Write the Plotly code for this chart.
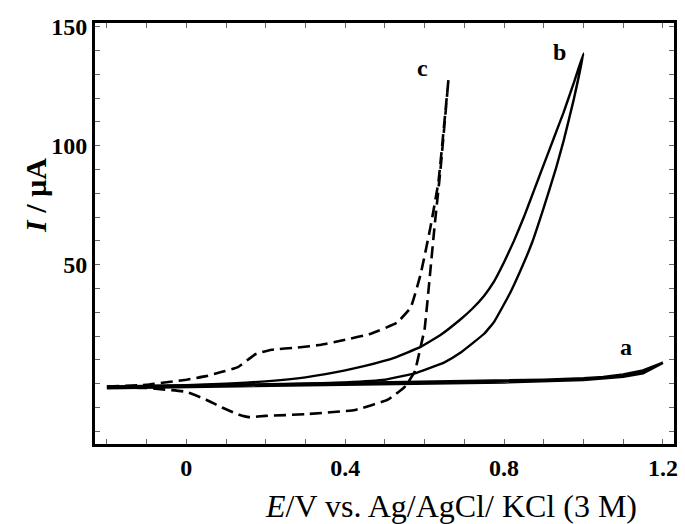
import plotly.graph_objects as go

# ---- data (E in V, I in µA) ----
a_E = [-0.2, 0.0, 0.2, 0.4, 0.6, 0.8, 0.9, 1.0, 1.05, 1.1, 1.15, 1.2,
       1.15, 1.1, 1.0, 0.8, 0.6, 0.4, 0.2, 0.0, -0.2]
a_I = [-1.3, -0.8, -0.3, 0.2, 0.7, 1.2, 1.6, 2.2, 2.8, 3.8, 5.5, 8.8,
       4.5, 3.0, 1.6, 0.6, 0.1, -0.4, -0.9, -1.4, -1.8]

b_E = [-0.2, 0.0, 0.2, 0.4, 0.5, 0.58, 0.65, 0.69, 0.75, 0.775, 0.815, 0.84, 0.87, 0.9, 0.93, 0.95, 0.975, 1.0,
       0.975, 0.95, 0.925, 0.9, 0.875, 0.85, 0.825, 0.8, 0.775, 0.75, 0.72, 0.69, 0.64, 0.59, 0.525, 0.45, 0.4, 0.3,
       0.2, 0.1, 0.0, -0.2]
b_I = [-1.5, -1.0, -0.4, 0.6, 1.7, 4.6, 9, 13, 21, 26, 38, 47, 59, 74, 90, 102, 119, 138.7,
       126, 114, 103, 92, 81, 70, 60, 51, 43, 37, 31.5, 27, 20.5, 15.5, 11, 7.5, 5.6, 2.7,
       1.0, 0.0, -0.6, -1.2]

c_E = [-0.2, -0.1, 0.0, 0.05, 0.09, 0.13, 0.175, 0.215, 0.28, 0.34, 0.4, 0.465, 0.53, 0.565, 0.59, 0.615, 0.635, 0.66,
       0.64, 0.625, 0.6125, 0.6, 0.59, 0.575, 0.55, 0.5075, 0.425, 0.3, 0.2, 0.158, 0.133, 0.09, 0.05, 0.0, -0.1, -0.2]
c_I = [-1.2, -0.4, 1.7, 3.2, 5, 7, 12.5, 14.3, 15.2, 16.4, 18.5, 21, 25.6, 32, 46, 66, 85, 127.7,
       90, 66, 44, 23, 15.5, 5, -1.3, -6.7, -11, -12.8, -13.5, -14, -13, -10, -6.7, -3.4, -1.8, -1.3]

curve_labels = ["a", "b", "c"]
label_E = [1.108, 0.94, 0.595]
label_I = [15.5, 139.5, 132.8]

x_tickvals = [-0.2, -0.1, 0.0, 0.1, 0.2, 0.3, 0.4, 0.5, 0.6, 0.7, 0.8, 0.9, 1.0, 1.1, 1.2]
x_ticktext = ["", "", "0", "", "", "", "0.4", "", "", "", "0.8", "", "", "", "1.2"]
y_tickvals = [-20, -10, 0, 10, 20, 30, 40, 50, 60, 70, 80, 90, 100, 110, 120, 130, 140, 150]
y_ticktext = ["", "", "", "", "", "", "", "50", "", "", "", "", "100", "", "", "", "", "150"]

SERIF = "Liberation Serif"

fig = go.Figure()
fig.add_trace(go.Scatter(x=a_E, y=a_I, mode="lines",
                         line=dict(color="black", width=2.8), showlegend=False))
fig.add_trace(go.Scatter(x=b_E, y=b_I, mode="lines",
                         line=dict(color="black", width=2.4, shape="spline", smoothing=0.3), showlegend=False))
fig.add_trace(go.Scatter(x=c_E, y=c_I, mode="lines",
                         line=dict(color="black", width=2.6, dash="12px,6px", shape="spline", smoothing=0.3),
                         showlegend=False))

for t, xe, yi in zip(curve_labels, label_E, label_I):
    fig.add_annotation(x=xe, y=yi, text=f"<b>{t}</b>", showarrow=False,
                       font=dict(family=SERIF, size=24, color="black"))

axis_common = dict(showline=True, linecolor="black", linewidth=3, mirror="ticks",
                   ticks="inside", ticklen=5, tickwidth=1, tickcolor="#666",
                   showgrid=False, zeroline=False, tickmode="array",
                   tickfont=dict(family=SERIF, size=24, color="black", weight="bold"))

fig.update_xaxes(range=[-0.23, 1.228], tickvals=x_tickvals, ticktext=x_ticktext, **axis_common)
fig.update_yaxes(range=[-25.3, 151.5], tickvals=y_tickvals, ticktext=y_ticktext, **axis_common)

# axis titles
fig.add_annotation(xref="paper", yref="paper", x=0.615, y=-0.148, xanchor="center", yanchor="middle",
                   text="<i>E</i>/V vs. Ag/AgCl/ KCl (3 M)", showarrow=False,
                   font=dict(family=SERIF, size=32, color="black"))
fig.add_annotation(xref="paper", yref="paper", x=-0.103, y=0.59, xanchor="center", yanchor="middle",
                   textangle=-90, text="<b><i>I</i> / µA</b>", showarrow=False,
                   font=dict(family=SERIF, size=30, color="black"))

fig.update_layout(width=685, height=524, plot_bgcolor="white", paper_bgcolor="white",
                  margin=dict(l=95, r=7, t=23, b=80))

fig.write_html("out.html")
